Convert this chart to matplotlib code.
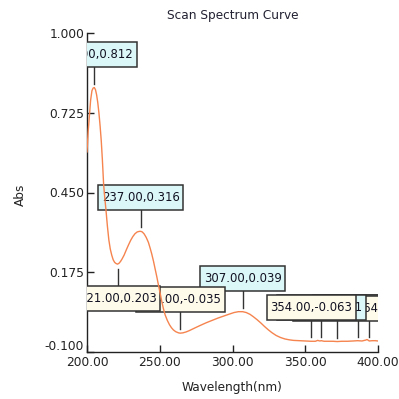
import matplotlib
matplotlib.use("Agg")
import matplotlib.pyplot as plt
from matplotlib.patches import Rectangle
from matplotlib.transforms import ScaledTranslation

# spectrum (nm, Abs)
wl = [200.0, 200.8, 201.6, 202.5, 203.4, 204.2, 205.0, 205.8, 206.6, 207.4,
      208.2, 209.0, 209.8, 210.6, 211.4, 212.2, 213.0, 214.0, 215.0, 216.0,
      217.0, 218.0, 219.0, 220.0, 221.0, 222.0, 223.0, 224.0, 225.5, 227.0,
      228.5, 230.0, 231.5, 233.0, 234.5, 236.0, 237.0, 238.0, 239.3, 240.7,
      242.2, 243.4, 244.5, 245.7, 246.8, 248.0, 249.1, 250.3, 251.4, 252.5,
      253.7, 255.2, 256.7, 258.0, 259.4, 261.0, 262.9, 264.0, 265.9, 268.0,
      270.0, 272.5, 275.0, 278.0, 282.0, 286.0, 290.0, 294.0, 298.0, 301.0,
      304.0, 307.0, 309.5, 312.0, 314.5, 317.0, 319.5, 322.0, 324.5, 327.0,
      330.0, 333.0, 336.0, 339.0, 342.0, 346.0, 350.0, 354.0, 357.0, 358.5,
      360.0, 361.0, 363.0, 366.0, 369.0, 372.0, 375.0, 379.0, 383.0, 386.0,
      389.0, 391.5, 392.5, 394.0, 396.0, 398.0, 400.0]
ab = [0.590, 0.660, 0.711, 0.769, 0.801, 0.810, 0.812, 0.805, 0.787, 0.760,
      0.724, 0.680, 0.628, 0.560, 0.480, 0.432, 0.392, 0.335, 0.287, 0.255,
      0.234, 0.218, 0.209, 0.205, 0.203, 0.206, 0.212, 0.220, 0.234, 0.252,
      0.269, 0.285, 0.298, 0.308, 0.314, 0.316, 0.316, 0.314, 0.307, 0.295,
      0.278, 0.258, 0.238, 0.213, 0.187, 0.159, 0.131, 0.102, 0.074, 0.050,
      0.028, 0.009, -0.006, -0.016, -0.024, -0.030, -0.034, -0.035, -0.034, -0.031,
      -0.027, -0.021, -0.015, -0.008, 0.001, 0.009, 0.017, 0.024, 0.031, 0.036,
      0.039, 0.039, 0.036, 0.030, 0.021, 0.011, 0.000, -0.012, -0.023, -0.033,
      -0.043, -0.050, -0.055, -0.058, -0.060, -0.061, -0.062, -0.063, -0.063, -0.060,
      -0.062, -0.061, -0.063, -0.063, -0.063, -0.064, -0.063, -0.063, -0.062, -0.061,
      -0.062, -0.059, -0.057, -0.062, -0.061, -0.061, -0.062]

# picked peaks / valleys
peak_x = [205, 237, 307, 361, 386]
peak_y = [0.812, 0.316, 0.039, -0.061, -0.061]
valley_x = [221, 264, 354, 372, 394]
valley_y = [0.203, -0.035, -0.063, -0.064, -0.062]
below = [221]   # labels hung under the point

xticks = [200, 250, 300, 350, 400]
yticks = [-0.100, 0.175, 0.450, 0.725, 1.000]

W = 399
fig = plt.figure(figsize=(W / 100, W / 100), dpi=100)
ax = fig.add_axes([87 / W, 1 - 352 / W, (378 - 87) / W, (352 - 33) / W])

ax.plot(wl, ab, color="#f5844f", lw=1.0, zorder=50)
ax.set_xlim(200, 400)
ax.set_ylim(-0.1, 1.0)
ax.set_xticks(xticks)
ax.set_xticklabels([f"{v:.2f}" for v in xticks])
ax.set_yticks(yticks)
ax.set_yticklabels([f"{v:.3f}" for v in yticks])
for s in ["top", "right"]:
    ax.spines[s].set_visible(False)
for s in ["left", "bottom"]:
    ax.spines[s].set_linewidth(1.0)
    ax.spines[s].set_color("#222222")
ax.tick_params(direction="in", length=5, width=1, labelsize=8.8,
               colors="#222222")
ax.tick_params(axis="x", pad=3)
ax.tick_params(axis="y", pad=2)
# bottom y label sits a bit above its tick
lab = ax.get_yticklabels()[0]
lab.set_transform(lab.get_transform() + ScaledTranslation(0, 7 / 100, fig.dpi_scale_trans))

fig.text(232.5 / W, 1 - 16 / W, "Scan Spectrum Curve", ha="center", va="center",
         fontsize=8.7, color="#222233")
fig.text(232.5 / W, 1 - 388 / W, "Wavelength(nm)", ha="center", va="center",
         fontsize=8.7, color="#222222")
fig.text(20 / W, 1 - 195 / W, "Abs", ha="center", va="center", rotation=90,
         fontsize=8.7, color="#222222")

fig.canvas.draw()
renderer = fig.canvas.get_renderer()
inv = ax.transData.inverted()

marks = [(x, y, "#dcf7f7") for x, y in zip(peak_x, peak_y)] + \
        [(x, y, "#fffbea") for x, y in zip(valley_x, valley_y)]
marks.sort(key=lambda m: m[0])
n = len(marks)
for i, (x, y, fc) in enumerate(marks):
    z = 10 + 2 * (n - i)
    px, py = ax.transData.transform((x, y))
    if x in below:
        l0, l1 = py - 5, py - 22
        cy = l1 - 12.5
    else:
        l0, l1 = py + 4, py + 21
        cy = l1 + 12.5
    _, d0 = inv.transform((px, l0))
    _, d1 = inv.transform((px, l1))
    ax.plot([x, x], [d0, d1], color="#333333", lw=1.0, zorder=3)
    _, dc = inv.transform((px, cy))
    t = ax.text(x, dc, f"{x:.2f},{y:.3f}", ha="center", va="center",
                fontsize=8.4, color="#111122", zorder=z + 1)
    t.set_clip_box(ax.bbox)
    t.set_clip_on(True)
    bb = t.get_window_extent(renderer)
    w = bb.width + 7
    (bx0, by0) = inv.transform((px - w / 2, cy - 12.5))
    (bx1, by1) = inv.transform((px + w / 2, cy + 12.5))
    ax.add_patch(Rectangle((bx0, by0), bx1 - bx0, by1 - by0, facecolor=fc,
                           edgecolor="#333333", lw=1.1, zorder=z))

fig.savefig("out.png", dpi=100)
